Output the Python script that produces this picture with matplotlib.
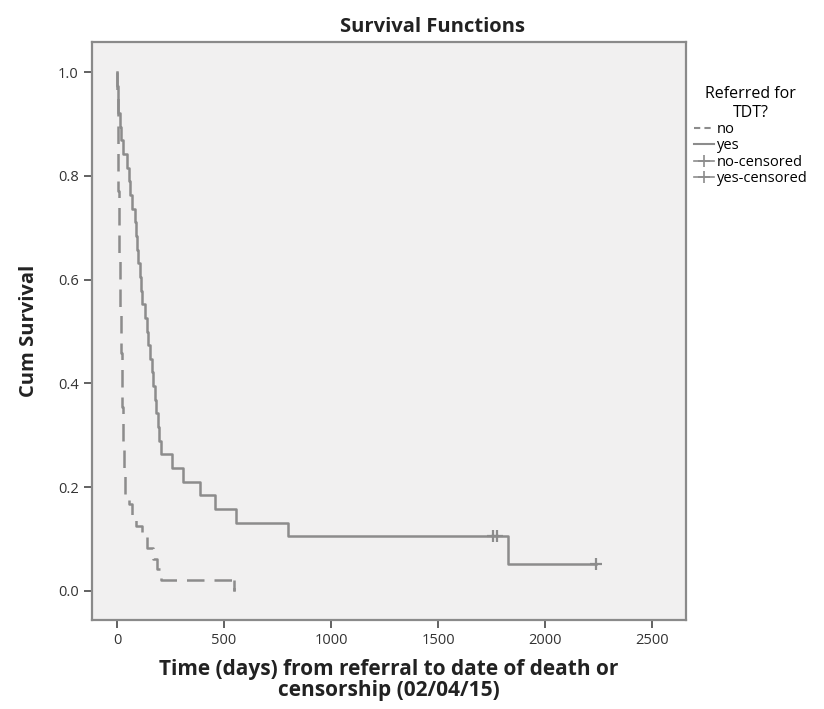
import numpy as np
import matplotlib
matplotlib.use("Agg")
import matplotlib.pyplot as plt
from matplotlib.lines import Line2D

# ---- data: per-patient times (days) and event flags (1 = death, 0 = censored)
no_times = [1, 1, 2, 2, 3, 3, 4, 4, 5, 5, 6, 7, 7, 8, 9, 10, 11, 12, 13, 14,
            15, 16, 17, 18, 19, 20, 21, 22, 23, 24, 25, 26, 28, 29, 30, 32,
            33, 35, 37, 55, 70, 90, 117, 140, 168, 187, 205, 545]
no_events = [1] * 48

yes_times = [1, 3, 5, 12, 20, 30, 47, 55, 60, 70, 84, 88, 93, 100, 108, 113,
             117, 131, 138, 145, 155, 163, 170, 178, 183, 192, 197, 205,
             257, 308, 388, 458, 556, 799, 1757, 1778, 1827, 2240]
yes_events = [1] * 34 + [0, 0, 1, 0]

x_ticks = [0, 500, 1000, 1500, 2000, 2500]
y_ticks = [0.0, 0.2, 0.4, 0.6, 0.8, 1.0]


def kaplan_meier(times, events):
    t = np.asarray(times, float)
    e = np.asarray(events, int)
    order = np.argsort(t, kind="stable")
    t, e = t[order], e[order]
    n = len(t)
    xs, ys = [0.0], [1.0]
    cens_x, cens_y = [], []
    s = 1.0
    at_risk = n
    for ut in np.unique(t):
        m = t == ut
        d = int(e[m].sum())
        c = int(m.sum()) - d
        if d > 0:
            s *= (at_risk - d) / at_risk
            xs.append(ut)
            ys.append(s)
        if c > 0:
            cens_x.append(ut)
            cens_y.append(s)
        at_risk -= int(m.sum())
    xs.append(t.max())
    ys.append(s)
    return np.array(xs), np.array(ys), cens_x, cens_y


line_col = "#8c8c8c"
fig = plt.figure(figsize=(8.24, 7.09), dpi=100)
ax = fig.add_axes([0.1117, 0.1255, 0.7208, 0.8153])
ax.set_facecolor("#f1f0f0")

nx, ny, ncx, ncy = kaplan_meier(no_times, no_events)
yx, yy, ycx, ycy = kaplan_meier(yes_times, yes_events)

ax.step(yx, yy, where="post", color=line_col, lw=1.8)
ax.step(nx, ny, where="post", color=line_col, lw=1.8, dashes=(7, 4))
# final drop of the "no" curve to zero drawn solid so it stays visible
ax.vlines(nx[-2], ny[-2], ny[-3], color=line_col, lw=1.8)
ax.plot(ycx, ycy, ls="none", marker="+", ms=8, mew=1.6, color=line_col)
if ncx:
    ax.plot(ncx, ncy, ls="none", marker="+", ms=8, mew=1.6, color=line_col)

ax.set_xlim(-117, 2659)
ax.set_ylim(-0.056, 1.058)
ax.set_xticks(x_ticks)
ax.set_yticks(y_ticks)
ax.set_yticklabels([f"{v:.1f}" for v in y_ticks])
ax.tick_params(axis="both", direction="out", length=6, width=1.3,
               colors="#555555", labelcolor="#333333", labelsize=10.5)
for sp in ax.spines.values():
    sp.set_color("#8a8a8a")
    sp.set_linewidth(1.6)

font = "Open Sans"
for lbl in ax.get_xticklabels() + ax.get_yticklabels():
    lbl.set_family(font)

fig.text(0.525, 0.962, "Survival Functions", ha="center", va="center",
         fontsize=14.5, fontweight="bold", family=font, color="#222222")
ax.set_ylabel("Cum Survival", fontsize=14.5, fontweight="bold", family=font,
              color="#222222", labelpad=14)
ax.set_xlabel("Time (days) from referral to date of death or\ncensorship (02/04/15)",
              fontsize=15, fontweight="bold", family=font, color="#222222",
              labelpad=8, linespacing=1.0)

handles = [
    Line2D([], [], color=line_col, lw=1.5, dashes=(3, 2)),
    Line2D([], [], color=line_col, lw=1.5),
    Line2D([], [], color=line_col, lw=1.2, marker="+", ms=9, mew=1.2),
    Line2D([], [], color=line_col, lw=1.2, marker="+", ms=9, mew=1.2),
]
labels = ["no", "yes", "no-censored", "yes-censored"]
leg = fig.legend(handles, labels, title="Referred for\nTDT?",
                 loc="upper left", bbox_to_anchor=(0.826, 0.897),
                 frameon=False, handlelength=1.4, handletextpad=0.2,
                 labelspacing=0.1,
                 prop={"family": font, "size": 10.5})
leg.get_title().set_fontsize(11.5)
leg.get_title().set_family(font)
leg.get_title().set_multialignment("center")

fig.savefig("out.png", dpi=100, facecolor="white")
